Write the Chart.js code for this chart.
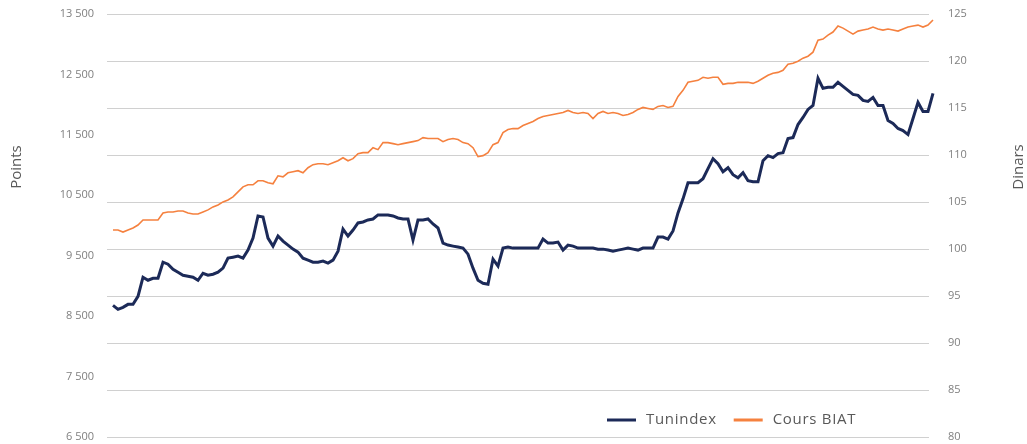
<!DOCTYPE html>
<html>
<head>
<meta charset="utf-8">
<script src="https://cdn.jsdelivr.net/npm/chart.js@4.4.1/dist/chart.umd.min.js"></script>
<style>
  html, body { margin: 0; padding: 0; background: #fff; }
  #wrap { position: relative; width: 1027px; height: 444px; }
</style>
</head>
<body>
<div id="wrap"><canvas id="chart"></canvas></div>
<script>
// Tunindex (points, left axis)
var tunindex = [
  8678, 8612, 8645, 8695, 8695, 8828, 9144, 9094, 9127, 9127,
  9393, 9360, 9277, 9227, 9177, 9160, 9144, 9094, 9210, 9177,
  9194, 9227, 9294, 9460, 9476, 9493, 9460, 9593, 9792, 10158,
  10141, 9792, 9659, 9826, 9742, 9676, 9609, 9560, 9460, 9427,
  9393, 9393, 9410, 9377, 9427, 9576, 9942, 9826, 9925, 10042,
  10058, 10092, 10108, 10175, 10175, 10175, 10158, 10125, 10108, 10108,
  9759, 10092, 10092, 10108, 10025, 9959, 9709, 9676, 9659, 9643,
  9626, 9526, 9294, 9094, 9044, 9027, 9443, 9327, 9626, 9643,
  9626, 9626, 9626, 9626, 9626, 9626, 9776, 9709, 9709, 9726,
  9593, 9676, 9659, 9626, 9626, 9626, 9626, 9609, 9609, 9593,
  9576, 9593, 9609, 9626, 9609, 9593, 9626, 9626, 9626, 9809,
  9809, 9776, 9909, 10208, 10441, 10707, 10707, 10707, 10773, 10940,
  11106, 11023, 10890, 10956, 10840, 10790, 10873, 10740, 10723, 10723,
  11073, 11156, 11123, 11189, 11205, 11438, 11455, 11671, 11788, 11921,
  11987, 12436, 12270, 12286, 12286, 12370, 12303, 12237, 12170, 12153,
  12070, 12054, 12120, 11987, 11987, 11738, 11688, 11605, 11572, 11505,
  11771, 12037, 11887, 11887, 12187, 12286
];

// Cours BIAT (dinars, right axis)
var coursBiat = [
  102.02, 102.02, 101.80, 102.02, 102.23, 102.55, 103.09, 103.09, 103.09, 103.09,
  103.83, 103.94, 103.94, 104.05, 104.05, 103.83, 103.73, 103.73, 103.94, 104.16,
  104.48, 104.69, 105.01, 105.22, 105.55, 106.08, 106.61, 106.83, 106.83, 107.26,
  107.26, 107.04, 106.94, 107.79, 107.68, 108.11, 108.22, 108.33, 108.11, 108.65,
  108.97, 109.07, 109.07, 108.97, 109.18, 109.39, 109.71, 109.39, 109.61, 110.14,
  110.25, 110.25, 110.78, 110.57, 111.32, 111.32, 111.21, 111.10, 111.21, 111.32,
  111.42, 111.53, 111.85, 111.75, 111.75, 111.75, 111.42, 111.64, 111.75, 111.64,
  111.32, 111.21, 110.78, 109.82, 109.93, 110.25, 111.10, 111.32, 112.39, 112.71,
  112.81, 112.81, 113.14, 113.35, 113.57, 113.88, 114.10, 114.20, 114.31, 114.42,
  114.52, 114.74, 114.52, 114.42, 114.52, 114.42, 113.88, 114.42, 114.63, 114.42,
  114.52, 114.42, 114.20, 114.31, 114.52, 114.85, 115.06, 114.95, 114.85, 115.17,
  115.27, 115.06, 115.17, 116.23, 116.88, 117.73, 117.84, 117.94, 118.27, 118.16,
  118.27, 118.27, 117.52, 117.62, 117.62, 117.73, 117.73, 117.73, 117.62, 117.84,
  118.16, 118.48, 118.69, 118.79, 119.01, 119.65, 119.76, 119.98, 120.30, 120.51,
  120.94, 122.22, 122.33, 122.75, 123.08, 123.72, 123.50, 123.18, 122.86, 123.18,
  123.29, 123.40, 123.61, 123.40, 123.29, 123.40, 123.29, 123.18, 123.40, 123.61,
  123.72, 123.82, 123.61, 123.82, 124.36, 124.89
];

var seriesNames = ['Tunindex', 'Cours BIAT'];
var leftTitle = 'Points';
var rightTitle = 'Dinars';

var NAVY = '#1c2a58';
var ORANGE = '#f5813f';
var FONT = '"Open Sans", "DejaVu Sans", sans-serif';

function spaced(v) {
  return String(v).replace(/\B(?=(\d{3})+(?!\d))/g, ' ');
}

function fitAxis(width) {
  return function (s) {
    s.width = width;
    s.paddingTop = 0;
    s.paddingBottom = 0;
  };
}

// axis titles and legend drawn over the plot, like the original
var overlayPlugin = {
  id: 'overlay',
  afterDraw: function (chart) {
    var ctx = chart.ctx;
    ctx.save();
    ctx.fillStyle = '#595959';
    ctx.font = '15px ' + FONT;
    ctx.textAlign = 'center';
    ctx.textBaseline = 'middle';
    [[leftTitle, 17], [rightTitle, 1019]].forEach(function (t) {
      ctx.save();
      ctx.translate(t[1], 167);
      ctx.rotate(-Math.PI / 2);
      ctx.fillText(t[0], 0, 0);
      ctx.restore();
    });

    var x = 607, y = 420;
    ctx.textAlign = 'left';
    ctx.font = '15px ' + FONT;
    ctx.letterSpacing = '0.7px';
    chart.data.datasets.forEach(function (ds) {
      ctx.strokeStyle = ds.borderColor;
      ctx.lineWidth = 3;
      ctx.beginPath();
      ctx.moveTo(x, y);
      ctx.lineTo(x + 29, y);
      ctx.stroke();
      x += 39;
      ctx.fillStyle = '#595959';
      ctx.fillText(ds.label, x, y);
      x += ctx.measureText(ds.label).width + 17;
    });
    ctx.restore();
  }
};

var ctx = document.getElementById('chart').getContext('2d');
new Chart(ctx, {
  type: 'line',
  data: {
    datasets: [
      {
        label: seriesNames[0],
        data: tunindex.map(function (v, i) { return { x: i, y: v }; }),
        borderColor: NAVY,
        borderWidth: 3,
        pointRadius: 0,
        tension: 0,
        yAxisID: 'y',
        clip: false
      },
      {
        label: seriesNames[1],
        data: coursBiat.map(function (v, i) { return { x: i, y: v }; }),
        borderColor: ORANGE,
        borderWidth: 1.6,
        pointRadius: 0,
        tension: 0,
        yAxisID: 'y1',
        clip: false
      }
    ]
  },
  options: {
    responsive: true,
    maintainAspectRatio: false,
    animation: false,
    layout: { padding: { top: 14, bottom: 7, left: 0, right: 0 } },
    plugins: {
      legend: { display: false },
      tooltip: { enabled: false }
    },
    scales: {
      x: {
        type: 'linear',
        display: false,
        min: -1.2,
        max: tunindex.length - 1 - 1.8
      },
      y: {
        type: 'linear',
        position: 'left',
        min: 6500,
        max: 13500,
        afterFit: fitAxis(107),
        grid: { display: false },
        border: { display: false },
        ticks: {
          stepSize: 1000,
          padding: 5,
          color: '#7f7f7f',
          font: { family: FONT, size: 11 },
          callback: function (v) { return spaced(v); }
        }
      },
      y1: {
        type: 'linear',
        position: 'right',
        min: 80,
        max: 125,
        afterFit: fitAxis(98),
        grid: { color: '#d0d0d0', lineWidth: 1, drawTicks: false },
        border: { display: false },
        ticks: {
          stepSize: 5,
          padding: 19,
          color: '#7f7f7f',
          font: { family: FONT, size: 11 }
        }
      }
    }
  },
  plugins: [overlayPlugin]
});
</script>
</body>
</html>
